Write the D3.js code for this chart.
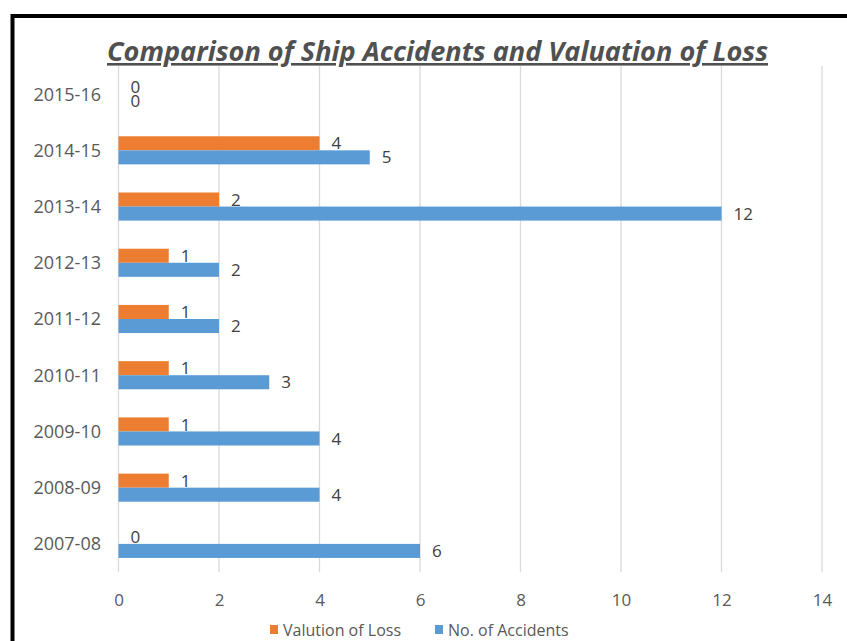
<!DOCTYPE html>
<html>
<head>
<meta charset="utf-8">
<script src="https://cdn.jsdelivr.net/npm/d3@7"></script>
<style>
  body { margin: 0; background: #fff; }
  svg { display: block; font-family: "Open Sans", sans-serif; }
</style>
</head>
<body>
<div id="chart"></div>
<script>
// Data
const years = ["2015-16", "2014-15", "2013-14", "2012-13", "2011-12", "2010-11", "2009-10", "2008-09", "2007-08"];
const lossValues = [0, 4, 2, 1, 1, 1, 1, 1, 0];
const accidentValues = [0, 5, 12, 2, 2, 3, 4, 4, 6];
const seriesNames = ["Valution of Loss", "No. of Accidents"];
const seriesColors = ["#ED7D31", "#5B9BD5"];
const xTicks = [0, 2, 4, 6, 8, 10, 12, 14];

const width = 847;
const height = 641;

const svg = d3.select("#chart")
    .append("svg")
    .attr("width", width)
    .attr("height", height);

svg.append("rect")
    .attr("width", width)
    .attr("height", height)
    .attr("fill", "#fff");

// Outer black frame (runs off the right and bottom of the picture)
svg.append("rect")
    .attr("x", 12.5)
    .attr("y", 16)
    .attr("width", 900)
    .attr("height", 700)
    .attr("fill", "none")
    .attr("stroke", "#000")
    .attr("stroke-width", 4);

// Scales
const x = d3.scaleLinear()
    .domain([0, 14])
    .range([118.5, 822]);

const y0 = d3.scaleBand()
    .domain(years)
    .range([66, 572]);

const y1 = d3.scaleBand()
    .domain(seriesNames)
    .range([y0.step() * 0.25, y0.step() * 0.75]);

// Gridlines
svg.append("g")
    .selectAll("line")
    .data(xTicks)
    .enter()
    .append("line")
    .attr("x1", (d) => x(d))
    .attr("x2", (d) => x(d))
    .attr("y1", 66)
    .attr("y2", 572)
    .attr("stroke", "#D9D9D9")
    .attr("stroke-width", 1.3);

// X axis labels
const xAxis = d3.axisBottom(x)
    .tickValues(xTicks)
    .tickSize(0)
    .tickPadding(0);

svg.append("g")
    .attr("transform", "translate(0, 591)")
    .call(xAxis)
    .call((g) => g.select(".domain").remove())
    .call((g) => g.selectAll("text")
        .attr("dy", "0.9em")
        .attr("fill", "#595959")
        .style("font-family", "Open Sans")
        .style("font-size", "17px"));

// Y axis labels
const yAxis = d3.axisLeft(y0)
    .tickSize(0)
    .tickPadding(0);

svg.append("g")
    .attr("transform", "translate(101, 0)")
    .call(yAxis)
    .call((g) => g.select(".domain").remove())
    .call((g) => g.selectAll("text")
        .attr("dy", "0.36em")
        .attr("fill", "#595959")
        .style("font-family", "Open Sans")
        .style("font-size", "18px"));

// Bars
const rows = years.map((yr, i) => ({
    year: yr,
    values: [
        { name: seriesNames[0], value: lossValues[i], color: seriesColors[0] },
        { name: seriesNames[1], value: accidentValues[i], color: seriesColors[1] },
    ],
}));

const groups = svg.append("g")
    .selectAll("g")
    .data(rows)
    .enter()
    .append("g")
    .attr("transform", (d) => `translate(0, ${y0(d.year)})`);

groups.selectAll("rect")
    .data((d) => d.values)
    .enter()
    .append("rect")
    .attr("x", x(0))
    .attr("y", (d) => y1(d.name))
    .attr("width", (d) => x(d.value) - x(0))
    .attr("height", y1.bandwidth())
    .attr("fill", (d) => d.color);

// Data labels
groups.selectAll("text")
    .data((d) => d.values)
    .enter()
    .append("text")
    .attr("x", (d) => x(d.value) + 12)
    .attr("y", (d) => y1(d.name) + y1.bandwidth() / 2)
    .attr("dy", "0.36em")
    .attr("fill", "#404040")
    .style("font-size", "17px")
    .text((d) => d.value);

// Title
svg.append("text")
    .attr("x", 437.5)
    .attr("y", 61)
    .attr("text-anchor", "middle")
    .attr("textLength", 661)
    .attr("lengthAdjust", "spacingAndGlyphs")
    .attr("fill", "#505050")
    .style("font-size", "26px")
    .style("font-weight", "bold")
    .style("font-style", "italic")
    .style("text-decoration", "underline")
    .text("Comparison of Ship Accidents and Valuation of Loss");

// Legend
const legendX = [270, 435];
const legend = svg.append("g")
    .selectAll("g")
    .data(seriesNames)
    .enter()
    .append("g")
    .attr("transform", (d, i) => `translate(${legendX[i]}, 625)`);

legend.append("rect")
    .attr("width", 8)
    .attr("height", 9)
    .attr("fill", (d, i) => seriesColors[i]);

legend.append("text")
    .attr("x", 13)
    .attr("y", 5)
    .attr("dy", "0.36em")
    .attr("fill", "#595959")
    .style("font-size", "16px")
    .text((d) => d);
</script>
</body>
</html>
